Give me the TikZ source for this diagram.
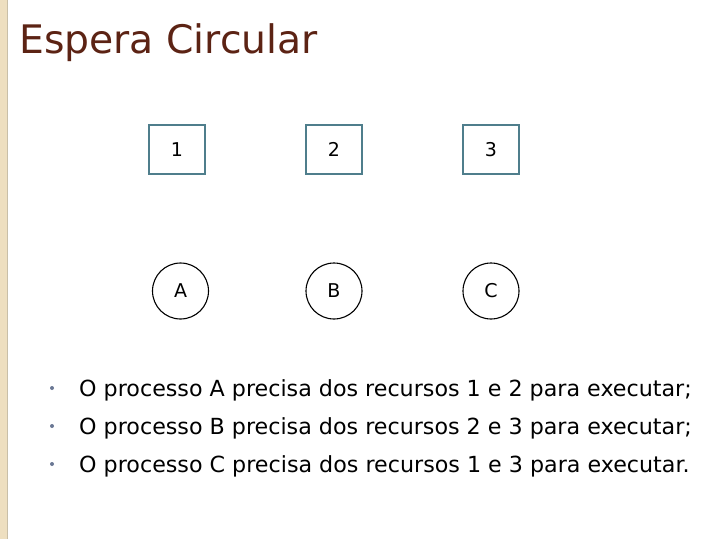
\documentclass[tikz,border=0pt]{standalone}
\usepackage{fontspec}
\setmainfont{DejaVu Sans}
\definecolor{titlebrown}{HTML}{5C2314}
\definecolor{boxedge}{HTML}{4F7E8C}
\definecolor{strip}{HTML}{EEDFC0}
\definecolor{stripline}{HTML}{C9BFA8}
\definecolor{bulletc}{HTML}{6A7894}
\begin{document}
\begin{tikzpicture}[x=1pt,y=-1pt,
  res/.style={draw=boxedge, line width=1.2pt, minimum width=56pt, minimum height=49pt, inner sep=0pt, font=\fontsize{19}{22}\selectfont},
  proc/.style={draw=black, circle, line width=1.1pt, minimum size=56pt, inner sep=0pt, font=\fontsize{19}{22}\selectfont},
  item/.style={anchor=base west, inner sep=0pt, font=\fontsize{22.2}{26}\selectfont},
  dot/.style={circle, fill=bulletc, inner sep=0pt, minimum size=4pt}]
\useasboundingbox (0,0) rectangle (702,539);
\fill[white] (0,0) rectangle (702,539);
\fill[strip] (0,0) rectangle (7,539);
\draw[stripline, line width=1pt] (7.5,0) -- (7.5,539);
\node[anchor=base west, inner sep=0pt, text=titlebrown, font=\fontsize{39.3}{44}\selectfont] (title) at (19,53) {Espera Circular};
\node[res] (r1) at (177,149.5) {1};
\node[res] (r2) at (334,149.5) {2};
\node[res] (r3) at (491,149.5) {3};
\node[proc] (pA) at (180.5,291) {A};
\node[proc] (pB) at (334,291) {B};
\node[proc] (pC) at (491,291) {C};
\node[dot] (d1) at (52,388) {};
\node[dot] (d2) at (52,426) {};
\node[dot] (d3) at (52,464) {};
\node[item] (t1) at (79,396.5) {O processo A precisa dos recursos 1 e 2 para executar;};
\node[item] (t2) at (79,434.5) {O processo B precisa dos recursos 2 e 3 para executar;};
\node[item] (t3) at (79,472.5) {O processo C precisa dos recursos 1 e 3 para executar.};
\end{tikzpicture}
\end{document}
